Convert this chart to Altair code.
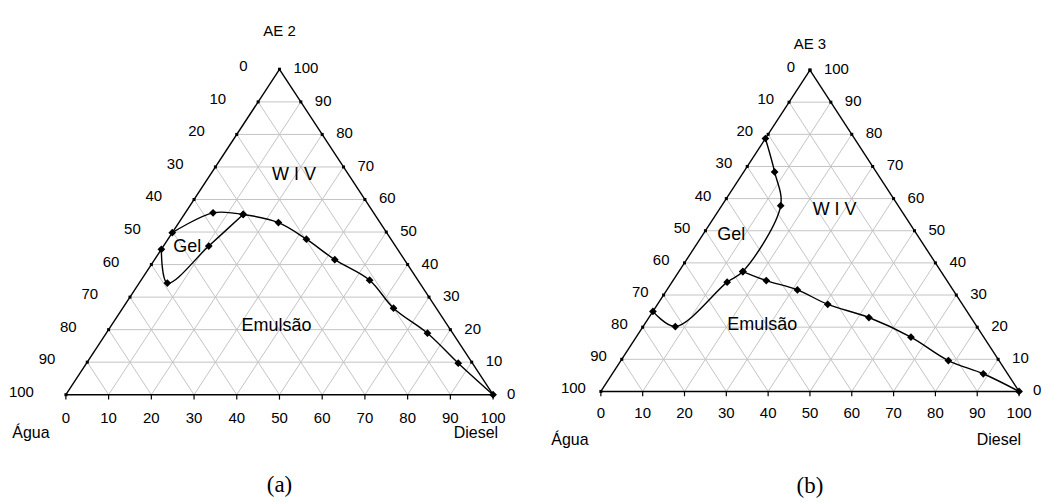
import altair as alt
import pandas as pd

# ---------------- data (ternary: Diesel %, surfactant % ; Água = 100 - both) -------------
TICKS = [0, 10, 20, 30, 40, 50, 60, 70, 80, 90, 100]
GRID = [10, 20, 30, 40, 50, 60, 70, 80, 90]

# Panel (a) AE 2
A_UPPER_DIESEL = [0, 6.5, 13.8, 23.3, 32.4, 42.2, 53.5, 63.4, 75.2, 87.0, 100]
A_UPPER_SURF = [49.8, 55.9, 55.4, 52.9, 47.8, 41.5, 35.2, 26.6, 18.9, 9.7, 0]
A_GEL_DIESEL = [0, 6.6, 10.6, 13.8]
A_GEL_SURF = [44.7, 34.3, 45.7, 55.4]

# Panel (b) AE 3
B_GEL_DIESEL = [0, 7.4, 14.1, 15.3, 13.2, 7.7, 0]
B_GEL_SURF = [78.7, 68.3, 57.8, 37.3, 34.0, 20.2, 24.9]
B_EMUL_DIESEL = [15.3, 22.3, 31.2, 40.7, 52.6, 65.7, 78.3, 88.7, 100]
B_EMUL_SURF = [37.3, 34.5, 31.6, 27.1, 23.0, 16.9, 9.6, 5.5, 0]

# Annotation texts
REGION_TEXT = ["W I V", "Gel", "Emulsão"]
A_REGION_U = [53.4, 28.4, 49.3]
A_REGION_V = [67.5, 45.5, 21.0]
B_REGION_U = [55.9, 31.2, 38.6]
B_REGION_V = [56.6, 48.7, 20.7]
AXIS_TEXT = ["Água", "Diesel"]

FONT = "Liberation Sans"


def curve_df(series):
    rows = []
    for name, ds, ss in series:
        for i, (d, s) in enumerate(zip(ds, ss)):
            rows.append({"series": name, "i": i, "D": d, "S": s})
    return pd.DataFrame(rows)


def grid_df():
    rows = []
    for k in GRID:
        rows.append({"D1": 0, "S1": k, "D2": 100 - k, "S2": k})
        rows.append({"D1": k, "S1": 0, "D2": k, "S2": 100 - k})
        rows.append({"D1": 100 - k, "S1": 0, "D2": 0, "S2": 100 - k})
    return pd.DataFrame(rows)


EDGES = pd.DataFrame([
    {"D1": 0, "S1": 0, "D2": 100, "S2": 0},
    {"D1": 100, "S1": 0, "D2": 0, "S2": 100},
    {"D1": 0, "S1": 100, "D2": 0, "S2": 0},
])


def panel(title, tag, series, region_u, region_v, g):
    xs = alt.Scale(domain=g["udom"], nice=False, zero=False)
    ys = alt.Scale(domain=g["vdom"], nice=False, zero=False)

    def seg(df):
        return alt.Chart(df).transform_calculate(
            u1="datum.D1 + datum.S1/2", v1="datum.S1",
            u2="datum.D2 + datum.S2/2", v2="datum.S2")

    def pts(df):
        return alt.Chart(df).transform_calculate(u="datum.D + datum.S/2", v="datum.S")

    seg_enc = dict(x=alt.X("u1:Q", scale=xs, axis=None), x2="u2:Q",
                   y=alt.Y("v1:Q", scale=ys, axis=None), y2="v2:Q")
    pt_enc = dict(x=alt.X("u:Q", scale=xs, axis=None), y=alt.Y("v:Q", scale=ys, axis=None))

    grid = seg(grid_df()).mark_rule(color="#c4c4c4", strokeWidth=1).encode(**seg_enc)
    edges = seg(EDGES).mark_rule(color="black", strokeWidth=1.4).encode(**seg_enc)

    bt = pd.DataFrame({"k": TICKS})
    bottom_ticks = alt.Chart(bt).transform_calculate(
        u1="datum.k", v1="0", u2="datum.k", v2="-1.5"
    ).mark_rule(color="black", strokeWidth=1.2).encode(**seg_enc)

    left = pd.DataFrame({"k": TICKS, "D": [0] * len(TICKS), "S": [100 - k for k in TICKS]})
    right = pd.DataFrame({"k": TICKS, "D": [100 - k for k in TICKS], "S": TICKS})
    bottom = pd.DataFrame({"k": TICKS, "D": TICKS, "S": [0] * len(TICKS)})

    edge_marks = alt.layer(
        pts(left).mark_square(color="black", size=9, opacity=1).encode(**pt_enc),
        pts(right).mark_square(color="black", size=9, opacity=1).encode(**pt_enc),
    )

    cdf = curve_df(series)
    lines = pts(cdf).mark_line(color="black", strokeWidth=1.4, interpolate="catmull-rom").encode(
        detail="series:N", order="i:Q", **pt_enc)
    diamonds = pts(cdf).mark_point(shape="diamond", filled=True, color="black", size=60,
                                   opacity=1).encode(**pt_enc)

    lab_kw = dict(font=FONT, fontSize=15, color="black", baseline="middle")
    blab = pts(bottom).mark_text(align="center", dy=g["bdy"], **lab_kw).encode(
        text="k:Q", **pt_enc)
    llab = pts(left).mark_text(align="right", dx=g["ldx"], dy=-3, **lab_kw).encode(
        text="k:Q", **pt_enc)
    rlab = pts(right).mark_text(align="left", dx=g["rdx"], dy=-1, **lab_kw).encode(
        text="k:Q", **pt_enc)

    reg = pd.DataFrame({"text": REGION_TEXT, "u": region_u, "v": region_v})
    regions = alt.Chart(reg).mark_text(font=FONT, fontSize=18, color="black",
                                       baseline="middle").encode(text="text:N", **pt_enc)

    axn = pd.DataFrame({"text": AXIS_TEXT, "u": g["axis_u"], "v": [g["axis_v"]] * 2})
    axis_names = alt.Chart(axn).mark_text(font=FONT, fontSize=16, color="black",
                                          baseline="middle").encode(text="text:N", **pt_enc)

    tt = pd.DataFrame({"text": [title], "u": [50], "v": [g["title_v"]]})
    title_m = alt.Chart(tt).mark_text(font=FONT, fontSize=15, color="black",
                                      baseline="middle").encode(text="text:N", **pt_enc)

    tg = pd.DataFrame({"text": [tag], "u": [50], "v": [g["tag_v"]]})
    tag_m = alt.Chart(tg).mark_text(font="Liberation Serif", fontSize=23, color="black",
                                    baseline="middle").encode(text="text:N", **pt_enc)

    return alt.layer(grid, bottom_ticks, edges, edge_marks, lines, diamonds,
                     blab, llab, rlab, regions, axis_names, title_m, tag_m).properties(
        width=g["w"], height=g["h"])


GA = dict(w=532, h=492, udom=[-13.32, 110.98], vdom=[-32.21, 118.71],
          bdy=23, ldx=-32, rdx=14, axis_u=[-8.2, 96.0], axis_v=-11.7,
          title_v=111.7, tag_v=-27.9)
GB = dict(w=502, h=492, udom=[-14.56, 105.25], vdom=[-33.63, 119.16],
          bdy=22, ldx=-15, rdx=14, axis_u=[-7.4, 95.2], axis_v=-15.0,
          title_v=108.0, tag_v=-29.3)

pa = panel("AE 2", "(a)", [("upper", A_UPPER_DIESEL, A_UPPER_SURF),
                            ("gel", A_GEL_DIESEL, A_GEL_SURF)], A_REGION_U, A_REGION_V, GA)
pb = panel("AE 3", "(b)", [("gel", B_GEL_DIESEL, B_GEL_SURF),
                            ("emul", B_EMUL_DIESEL, B_EMUL_SURF)], B_REGION_U, B_REGION_V, GB)

chart = alt.hconcat(pa, pb, spacing=0).resolve_scale(x="independent", y="independent").properties(
    padding=0).configure_view(stroke=None)

chart.save("out.html", embed_options={"renderer": "svg", "actions": False})
